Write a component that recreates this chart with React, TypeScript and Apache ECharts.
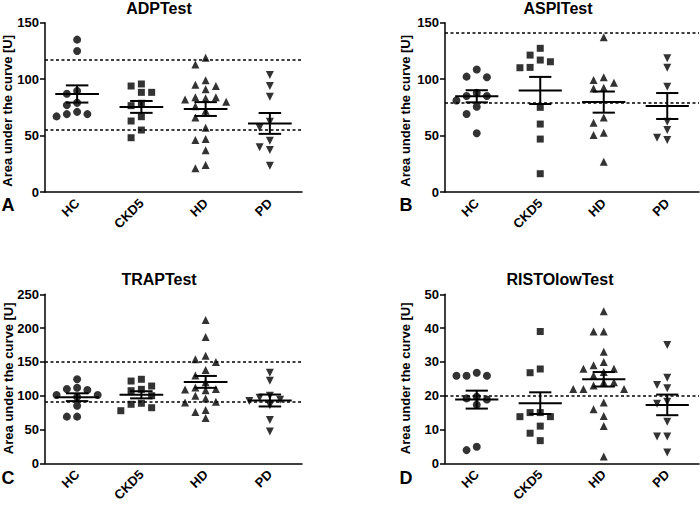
import React, { useEffect, useRef } from 'react';
import * as echarts from 'echarts';

// ---------- data ----------
const categories = ['HC', 'CKD5', 'HD', 'PD'];

const adpHC = [135, 125, 89.5, 87, 79, 77, 71, 69, 69, 67];
const adpCKD5 = [95.7, 93.9, 88.3, 88.3, 78.6, 76.5, 66.7, 62.9, 54.9, 48.1];
const adpHD = [119, 113, 99, 95, 94, 91, 84, 84, 83, 82, 80, 76, 72, 66, 57, 47, 46, 37, 24, 21];
const adpPD = [103.6, 93.9, 84.4, 62.3, 57, 45.4, 39.6, 37.2, 23.3];
const adpRefLines = [117, 55];
const adpAxis = [0, 150, 50];

const aspiHC = [108.6, 102.2, 101.6, 88, 85, 85, 81, 75.6, 69.1, 52];
const aspiCKD5 = [127.3, 121.3, 116.9, 115.4, 110.4, 110.1, 75, 60.2, 46.9, 16.2];
const aspiHD = [137, 101.6, 99.2, 96.8, 92.4, 91.8, 66.1, 61.4, 52.6, 50.5, 26.9];
const aspiPD = [118.4, 110.1, 93.3, 62.3, 54.9, 48.1, 46.1];
const aspiRefLines = [141, 79];
const aspiAxis = [0, 150, 50];

const trapHC = [124.3, 111.8, 110, 108.4, 101, 101, 98, 85.2, 69, 69];
const trapCKD5 = [124.3, 121.7, 114.3, 109.4, 107.4, 100, 88.8, 87.3, 82.2, 77.8];
const trapHD = [212, 187, 159, 154, 150, 138, 130, 120, 112, 110, 109, 108, 100, 96, 91, 90, 79, 76, 67];
const trapPD = [134, 122, 100, 97, 94, 92, 86, 64, 47];
const trapRefLines = [150, 91];
const trapAxis = [0, 250, 50];

const ristoHC = [26.8, 25.9, 25.9, 25.9, 19.7, 19.2, 18.9, 17.3, 4.9, 3.9];
const ristoCKD5 = [39, 27.9, 26.8, 15, 15, 13.8, 13.8, 11, 8.9, 6.7];
const ristoHD = [45, 39, 39, 33, 30, 29, 28, 28, 27, 26, 24, 24, 23, 22, 22, 22, 18, 16, 14, 11, 2];
const ristoPD = [35, 25.3, 23.2, 22.2, 18.2, 17.6, 12.3, 7.9, 7.9, 3.2];
const ristoRefLines = [20];
const ristoAxis = [0, 50, 10];

const panelTitles = ['ADPTest', 'ASPITest', 'TRAPTest', 'RISTOlowTest'];
const panelLetters = ['A', 'B', 'C', 'D'];
const yAxisName = 'Area under the curve [U]';

// ---------- layout / style ----------
const FONT = "'Liberation Sans', Arial, Helvetica, sans-serif";
const grids = [
  { left: 45, top: 22.7, width: 257, height: 169.3 },
  { left: 445, top: 22.7, width: 254, height: 169.3 },
  { left: 45, top: 294.3, width: 257, height: 169 },
  { left: 445, top: 294.3, width: 254, height: 169 },
];
const titlePos = [[159, 8], [558, 8], [159, 279], [560, 279]];
const letterPos = [[8, 204.5], [406, 204.5], [8, 477.5], [406, 477.5]];
const yNamePos = [[7.5, 110.8], [405, 110.8], [8, 378.3], [405, 378.3]];
const symbols = ['circle', 'rect', 'triangle', 'triangle'];
const symbolRot = [0, 0, 0, 180];
const symbolSizes = [8, 7, 8, 8];

function stats(v: number[]) {
  const n = v.length;
  const m = v.reduce((a, b) => a + b, 0) / n;
  const sd = Math.sqrt(v.reduce((a, b) => a + (b - m) * (b - m), 0) / (n - 1));
  const sem = sd / Math.sqrt(n);
  return [m, m - sem, m + sem];
}

// simple beeswarm: spreads near-equal values into side columns (step in category units)
function swarm(values: number[], pxPerUnit: number, step: number, diam: number) {
  const order = values.map((_, i) => i).sort((a, b) => values[b] - values[a]);
  const placed: { k: number; y: number }[] = [];
  const out = new Array(values.length).fill(0);
  for (const i of order) {
    const y = values[i] * pxPerUnit;
    for (let n = 0; n < 30; n++) {
      const k = n === 0 ? 0 : n % 2 === 1 ? -Math.ceil(n / 2) : Math.ceil(n / 2);
      const ok = placed.every((p) => p.k !== k || Math.abs(p.y - y) >= diam);
      if (ok) {
        placed.push({ k, y });
        out[i] = k * step;
        break;
      }
    }
  }
  return out;
}

export default function App() {
  const ref = useRef<HTMLDivElement>(null);
  useEffect(() => {
    if (!ref.current) return;
    const chart = echarts.init(ref.current, null, { renderer: 'svg' });
    const panelGroups = [
      [adpHC, adpCKD5, adpHD, adpPD],
      [aspiHC, aspiCKD5, aspiHD, aspiPD],
      [trapHC, trapCKD5, trapHD, trapPD],
      [ristoHC, ristoCKD5, ristoHD, ristoPD],
    ];
    const panelRefs = [adpRefLines, aspiRefLines, trapRefLines, ristoRefLines];
    const panelAxes = [adpAxis, aspiAxis, trapAxis, ristoAxis];

    const xAxis: any[] = [];
    const yAxis: any[] = [];
    const series: any[] = [];
    const graphic: any[] = [];
    const axisText = { color: '#000', fontWeight: 'bold', fontSize: 13, fontFamily: FONT };
    const axisLine = { show: true, onZero: false, lineStyle: { color: '#000', width: 1.5 } };

    panelGroups.forEach((groups, p) => {
      const [ymin, ymax, yint] = panelAxes[p];
      xAxis.push({
        gridIndex: p,
        type: 'category',
        data: categories,
        axisLine,
        axisTick: { alignWithLabel: true, length: 5, lineStyle: { color: '#000', width: 1.5 } },
        axisLabel: { ...axisText, rotate: 45, margin: 9 },
        splitLine: { show: false },
      });
      xAxis.push({ gridIndex: p, type: 'value', min: -0.5, max: 3.5, show: false });
      yAxis.push({
        gridIndex: p,
        type: 'value',
        min: ymin,
        max: ymax,
        interval: yint,
        axisLine,
        axisTick: { show: true, length: 5, lineStyle: { color: '#000', width: 1.5 } },
        axisLabel: { ...axisText, margin: 6 },
        splitLine: { show: false },
      });
      const pxPerUnit = grids[p].height / (ymax - ymin);
      groups.forEach((vals, g) => {
        const offs = swarm(vals, pxPerUnit, 0.16, 8);
        const s: any = {
          type: 'scatter',
          xAxisIndex: 2 * p + 1,
          yAxisIndex: p,
          symbol: symbols[g],
          symbolSize: symbolSizes[g],
          symbolRotate: symbolRot[g],
          itemStyle: { color: '#000' },
          data: vals.map((v, i) => [g + offs[i], v]),
          z: 2,
        };
        if (g === 0) {
          s.markLine = {
            silent: true,
            symbol: 'none',
            label: { show: false },
            lineStyle: { color: '#000', width: 1.5, type: [3, 2.5] },
            data: panelRefs[p].map((v) => ({ yAxis: v })),
          };
        }
        series.push(s);
      });
      series.push({
        type: 'custom',
        xAxisIndex: 2 * p + 1,
        yAxisIndex: p,
        z: 5,
        clip: false,
        data: groups.map((vals, g) => [g, ...stats(vals)]),
        renderItem: (_params: any, api: any) => {
          const x = api.value(0);
          const pm = api.coord([x, api.value(1)]);
          const plo = api.coord([x, api.value(2)]);
          const phi = api.coord([x, api.value(3)]);
          const w = api.size([1, 0])[0];
          const mw = w * 0.34;
          const cw = w * 0.175;
          const style = { stroke: '#000', lineWidth: 2 };
          return {
            type: 'group',
            children: [
              { type: 'line', shape: { x1: pm[0] - mw, y1: pm[1], x2: pm[0] + mw, y2: pm[1] }, style },
              { type: 'line', shape: { x1: phi[0], y1: phi[1], x2: plo[0], y2: plo[1] }, style },
              { type: 'line', shape: { x1: phi[0] - cw, y1: phi[1], x2: phi[0] + cw, y2: phi[1] }, style },
              { type: 'line', shape: { x1: plo[0] - cw, y1: plo[1], x2: plo[0] + cw, y2: plo[1] }, style },
            ],
          };
        },
      });

      const txt = (x: number, y: number, text: string, size: number, rotation = 0) => ({
        type: 'text',
        x,
        y,
        rotation,
        style: {
          text,
          fill: '#000',
          fontSize: size,
          fontWeight: 'bold',
          fontFamily: FONT,
          textAlign: 'center',
          textVerticalAlign: 'middle',
          align: 'center',
          verticalAlign: 'middle',
        },
      });
      graphic.push(txt(titlePos[p][0], titlePos[p][1], panelTitles[p], 16));
      graphic.push(txt(letterPos[p][0], letterPos[p][1], panelLetters[p], 18));
      graphic.push(txt(yNamePos[p][0], yNamePos[p][1], yAxisName, 13, Math.PI / 2));
    });

    chart.setOption({
      animation: false,
      backgroundColor: '#fff',
      grid: grids.map((g) => ({ ...g, containLabel: false })),
      xAxis,
      yAxis,
      series,
      graphic,
    });
    return () => chart.dispose();
  }, []);
  return (
    <div
      ref={ref}
      style={{ position: 'fixed', left: 0, top: 0, width: 700, height: 505 }}
    />
  );
}
